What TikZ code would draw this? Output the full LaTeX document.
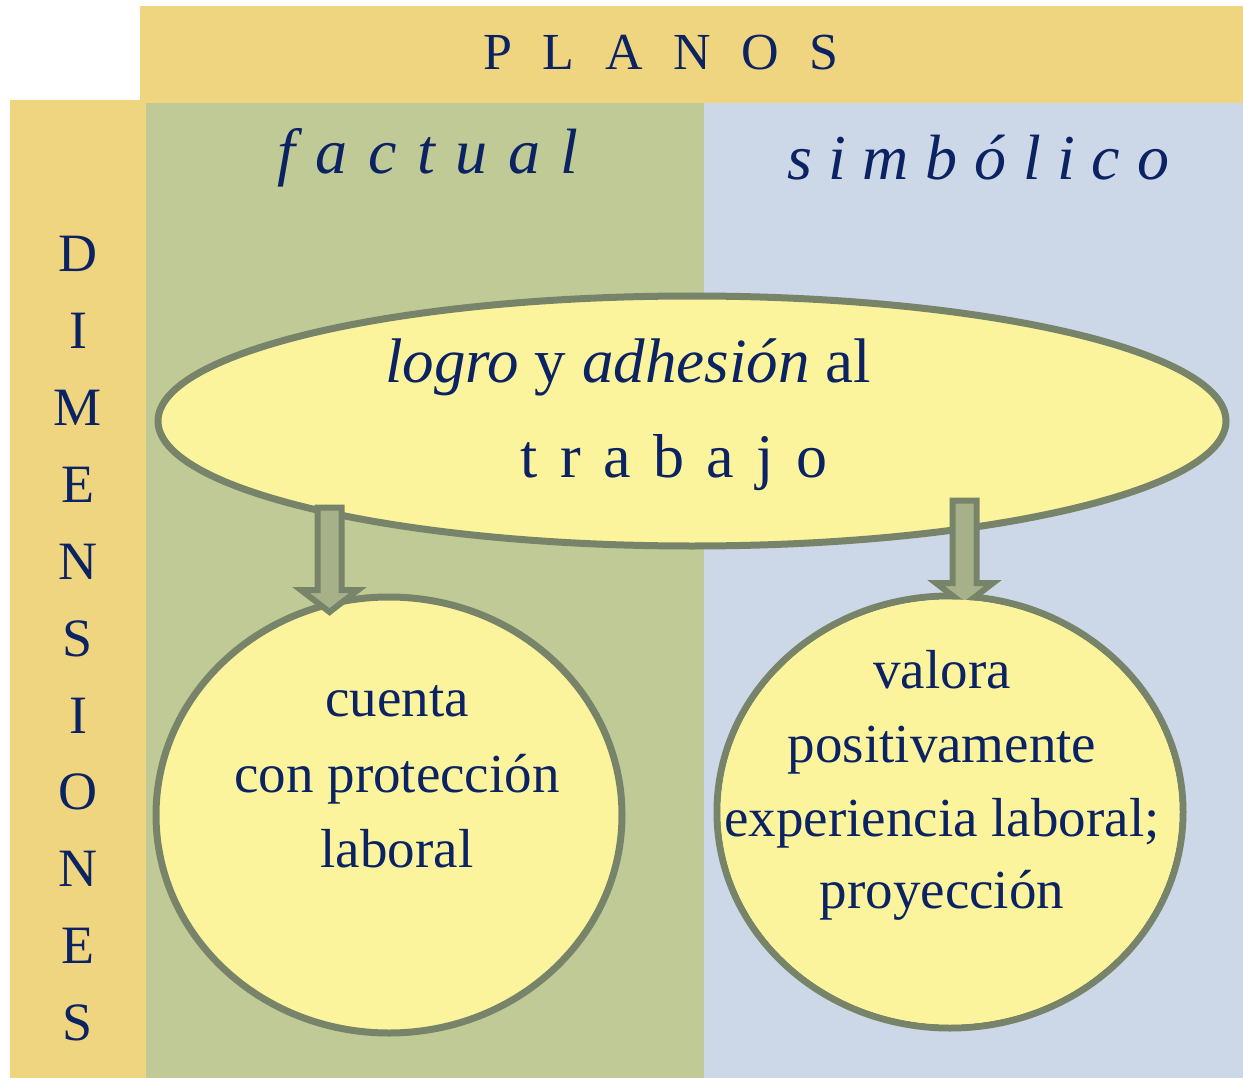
\documentclass[tikz,border=0pt]{standalone}
\usepackage{fontspec}
\setmainfont{Liberation Serif}
\usetikzlibrary{shapes.geometric}
\definecolor{barY}{HTML}{EFD580}
\definecolor{panG}{HTML}{BFCA96}
\definecolor{panB}{HTML}{CCD7E7}
\definecolor{fillY}{HTML}{FBF49C}
\definecolor{edgeG}{HTML}{77846A}
\definecolor{arrF}{HTML}{A6B18A}
\definecolor{navy}{HTML}{0B2263}
\tikzset{
  bar/.style={fill=barY, draw=none},
  panel/.style={draw=none},
  blob/.style={fill=fillY, draw=edgeG, line width=7pt},
  blockarrow/.style={fill=arrF, draw=edgeG, line width=6pt, line join=miter},
  txt/.style={text=navy, inner sep=0pt, align=center},
}
\begin{document}
\begin{tikzpicture}[x=1pt,y=-1pt]
\useasboundingbox (0,0) rectangle (1243,1078);
\fill[white] (0,0) rectangle (1243,1078);
% bars and panels
\path[bar] (140,6) rectangle (1243,103.5);
\path[bar] (10,100) rectangle (146,1078);
\path[panel, fill=panG] (146,103) rectangle (704,1078);
\path[panel, fill=panB] (704,103) rectangle (1243,1078);
% headings
\node[txt, font=\fontsize{52}{52}\selectfont\addfontfeature{LetterSpace=59}] (planos) at (661,53) {PLANOS};
\node[txt, font=\fontsize{64}{64}\selectfont\itshape\addfontfeature{LetterSpace=32}] (factual) at (428,158) {factual};
\node[txt, font=\fontsize{64}{64}\selectfont\itshape\addfontfeature{LetterSpace=26}] (simbolico) at (978,158) {simbólico};
\foreach \l [count=\i] in {D,I,M,E,N,S,I,O,N,E,S}
  \node[txt, font=\fontsize{54}{54}\selectfont] (dim\i) at (78,254+76.9*\i-76.9) {\l};
% ellipse
\node[blob, ellipse, minimum width=1068pt, minimum height=250pt, inner sep=0pt] (logro) at (692,421) {};
\node[txt, font=\fontsize{63}{63}\selectfont, anchor=base] (logroA) at (628,382) {\textit{logro} y \textit{adhesión} al};
\node[txt, font=\fontsize{62}{62}\selectfont\addfontfeature{LetterSpace=36}, anchor=base] (logroB) at (674,477) {trabajo};
% circles
\node[blob, ellipse, minimum width=466pt, minimum height=436pt, inner sep=0pt] (cuenta) at (389,815) {};
\node[blob, ellipse, minimum width=466pt, minimum height=432pt, inner sep=0pt] (valora) at (950,812) {};
% arrows
\draw[blockarrow] (317.5,507.5) -- (341.5,507.5) -- (341.5,590) -- (358,590) -- (329.5,612) -- (301,590) -- (317.5,590) -- cycle;
\draw[blockarrow] (952.5,500.5) -- (976.5,500.5) -- (976.5,583) -- (993,583) -- (964.5,605) -- (936,583) -- (952.5,583) -- cycle;
\node[blob, ellipse, draw=none, minimum width=459pt, minimum height=425pt, inner sep=0pt] at (950,812) {};
% circle texts
\node[txt, font=\fontsize{55}{75}\selectfont, anchor=base] (c1) at (397,716) {cuenta};
\node[txt, font=\fontsize{55}{75}\selectfont, anchor=base] (c2) at (397,792) {con protección};
\node[txt, font=\fontsize{55}{75}\selectfont, anchor=base] (c3) at (397,867) {laboral};
\node[txt, font=\fontsize{55}{75}\selectfont, anchor=base] (v1) at (942,688) {valora};
\node[txt, font=\fontsize{55}{75}\selectfont, anchor=base] (v2) at (942,762) {positivamente};
\node[txt, font=\fontsize{55}{75}\selectfont, anchor=base] (v3) at (942,836) {experiencia laboral;};
\node[txt, font=\fontsize{55}{75}\selectfont, anchor=base] (v4) at (942,908) {proyección};
\end{tikzpicture}
\end{document}
